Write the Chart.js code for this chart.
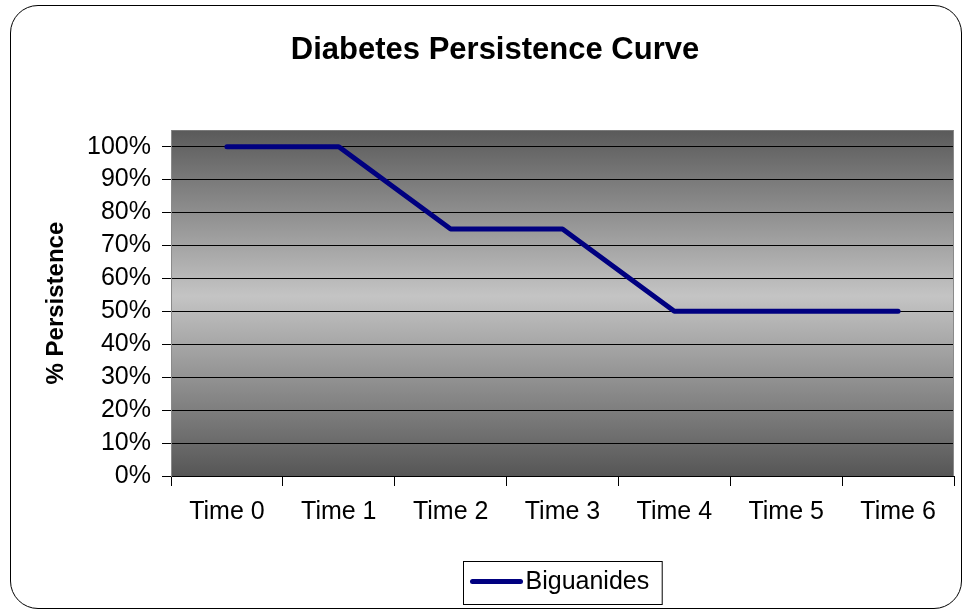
<!DOCTYPE html>
<html>
<head>
<meta charset="utf-8">
<script src="https://cdn.jsdelivr.net/npm/chart.js@4"></script>
<style>
  body { margin: 0; background: #fff; overflow: hidden; }
  #wrap { position: relative; width: 963px; height: 613px; }
  #frame {
    position: absolute; left: 10px; top: 5px; width: 950px; height: 602px;
    border: 1px solid #000; border-radius: 28px; pointer-events: none;
  }
  canvas { position: absolute; left: 0; top: 0; }
</style>
</head>
<body>
<div id="wrap">
  <div id="frame"></div>
  <canvas id="myChart" width="963" height="613"></canvas>
</div>
<script>
var labels = ["Time 0", "Time 1", "Time 2", "Time 3", "Time 4", "Time 5", "Time 6"];
var biguanides = [100, 100, 75, 75, 50, 50, 50];
var yTicks = [0, 10, 20, 30, 40, 50, 60, 70, 80, 90, 100];

Chart.defaults.font.family = "'Liberation Sans', Arial, sans-serif";
Chart.defaults.color = "#000";

// gradient plot area, gray right border and a boxed legend under the plot
const plotDecor = {
	id: "plotDecor",
	beforeDraw(chart) {
		const ctx = chart.ctx;
		const a = chart.chartArea;
		const g = ctx.createLinearGradient(0, a.top, 0, a.bottom);
		g.addColorStop(0, "#5a5a5a");
		g.addColorStop(0.48, "#c4c4c4");
		g.addColorStop(1, "#565656");
		ctx.save();
		ctx.fillStyle = g;
		ctx.fillRect(a.left, a.top, a.right - a.left, a.bottom - a.top);
		ctx.restore();
	},
	beforeDatasetsDraw(chart) {
		const ctx = chart.ctx;
		const a = chart.chartArea;
		ctx.save();
		ctx.strokeStyle = "#8a8a8a";
		ctx.lineWidth = 1;
		ctx.beginPath();
		ctx.moveTo(a.right - 0.5, a.top);
		ctx.lineTo(a.right - 0.5, a.bottom);
		ctx.stroke();
		ctx.restore();
	},
	afterDraw(chart) {
		const ctx = chart.ctx;
		const a = chart.chartArea;
		const ds = chart.data.datasets[0];
		ctx.save();
		ctx.font = "25px 'Liberation Sans', Arial, sans-serif";
		const tw = ctx.measureText(ds.label).width;
		const w = 7 + 52 + 3 + tw + 13;
		const h = 43;
		const x = Math.round((a.left + a.right) / 2 - w / 2) + 0.5;
		const y = 561.5;
		ctx.fillStyle = "#fff";
		ctx.fillRect(x, y, w, h);
		ctx.strokeStyle = "#000";
		ctx.lineWidth = 1;
		ctx.strokeRect(x, y, w, h);
		ctx.strokeStyle = ds.borderColor;
		ctx.lineWidth = 5;
		ctx.lineCap = "round";
		ctx.beginPath();
		ctx.moveTo(x + 9, y + 20);
		ctx.lineTo(x + 57, y + 20);
		ctx.stroke();
		ctx.fillStyle = "#000";
		ctx.textBaseline = "middle";
		ctx.fillText(ds.label, x + 62, y + 21);
		ctx.restore();
	},
};

const data = {
	labels: labels,
	datasets: [
		{
			label: "Biguanides",
			data: biguanides,
			borderColor: "#000080",
			backgroundColor: "#000080",
			borderWidth: 5,
			borderCapStyle: "round",
			borderJoinStyle: "round",
			pointRadius: 0,
			tension: 0,
		},
	],
};

const config = {
	type: "line",
	data: data,
	plugins: [plotDecor],
	options: {
		responsive: false,
		animation: false,
		layout: { padding: { left: 36, right: 9, top: 0, bottom: 0 } },
		plugins: {
			legend: { display: false },
			tooltip: { enabled: false },
			title: {
				display: true,
				text: "Diabetes Persistence Curve",
				font: { size: 31, weight: "bold" },
				color: "#000",
				padding: { top: 32, bottom: 61 },
			},
		},
		scales: {
			x: {
				offset: true,
				afterFit: function (scale) {
					scale.height = 137;
				},
				grid: {
					offset: true,
					drawOnChartArea: false,
					drawTicks: true,
					tickLength: 10,
					color: "#000",
				},
				border: { color: "#000" },
				ticks: {
					font: { size: 25 },
					color: "#000",
					padding: 11,
					maxRotation: 0,
				},
			},
			y: {
				min: 0,
				max: 105,
				afterBuildTicks: function (scale) {
					scale.ticks = yTicks.map(function (v) {
						return { value: v };
					});
				},
				afterFit: function (scale) {
					scale.width = 135;
				},
				grid: {
					color: "#000",
					lineWidth: 1,
					tickLength: 9,
				},
				border: { color: "#8a8a8a" },
				ticks: {
					font: { size: 25 },
					color: "#000",
					padding: 11,
					callback: function (v) {
						return v + "%";
					},
				},
				title: {
					display: true,
					text: "% Persistence",
					font: { size: 24, weight: "bold" },
					color: "#000",
					padding: { top: 6, bottom: 0 },
				},
			},
		},
	},
};

const myChart = new Chart(document.getElementById("myChart"), config);
</script>
</body>
</html>
